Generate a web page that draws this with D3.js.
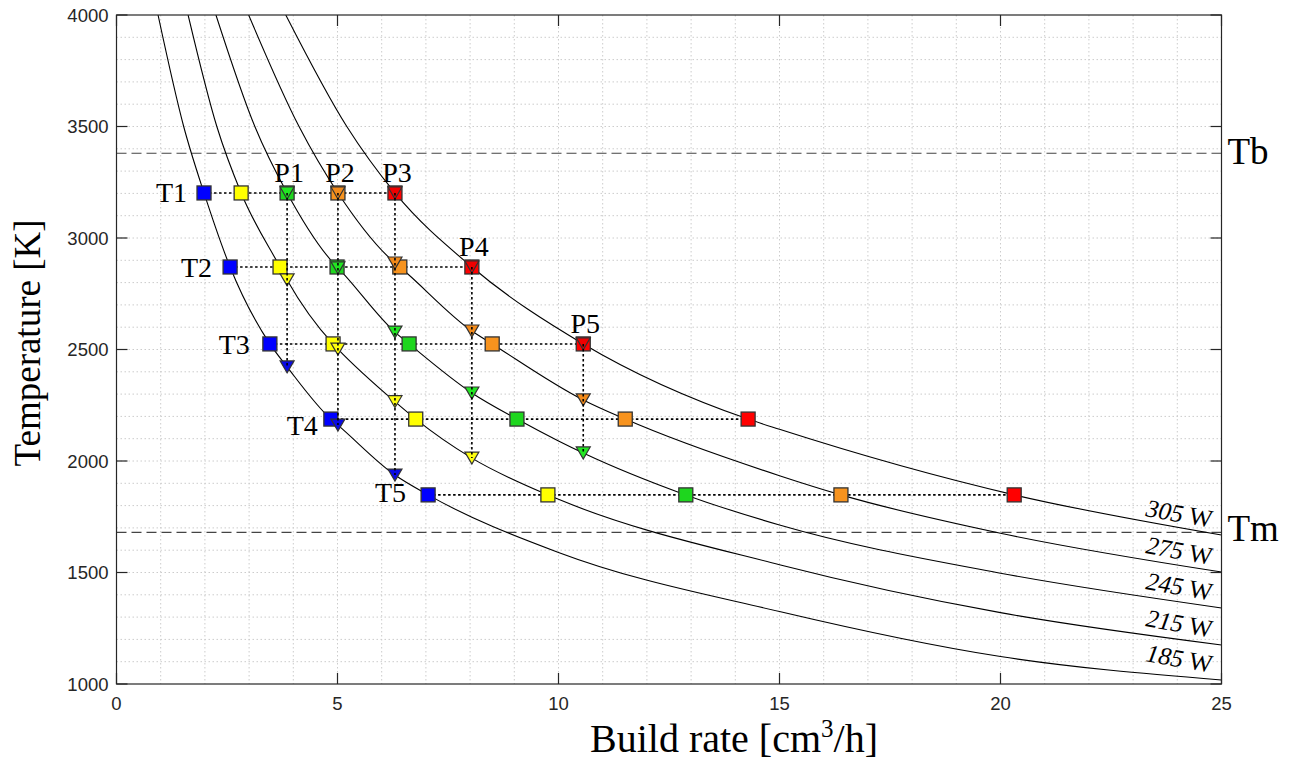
<!DOCTYPE html>
<html>
<head>
<meta charset="utf-8">
<script src="https://cdn.jsdelivr.net/npm/d3@7"></script>
<style>
  body { margin: 0; background: #fff; }
  svg { display: block; }
</style>
</head>
<body>
<svg id="chart" width="1295" height="762"></svg>
<script>
// ---- data ----
const powerDigits = ["185", "215", "245", "275", "305"];
const squareColors = ["#0000ff", "#ffff00", "#1ed61e", "#f7931e", "#ff0000"];
const triangleColors = ["#0a0ae6", "#ffff10", "#22e622", "#f28a1a", "#f00000"];

const tempLabels = ["T1", "T2", "T3", "T4", "T5"];
const tempLevels = [3202, 2870, 2525, 2188, 1848];
const rateLabels = ["P1", "P2", "P3", "P4", "P5"];
const rateLevels = [3.86, 5.01, 6.30, 8.04, 10.56];

// build rate at which each power curve reaches each temperature level
// rows: T1..T5, columns: 185, 215, 245, 275, 305 W
const squareRates = [
  [1.98, 2.82, 3.86, 5.01, 6.30],
  [2.57, 3.70, 4.99, 6.41, 8.04],
  [3.47, 4.90, 6.62, 8.50, 10.56],
  [4.85, 6.77, 9.06, 11.51, 14.29],
  [7.05, 9.76, 12.88, 16.39, 20.31]
];

// temperature of each power curve at each build rate level
// rows: P1..P5, columns: 185, 215, 245, 275, 305 W
const triangleTemps = [
  [2422, 2812, 3202, null, null],
  [2161, 2502, 2866, 3202, null],
  [1937, 2266, 2578, 2888, 3202],
  [null, 2013, 2305, 2583, 2870],
  [null, null, 2036, 2274, 2525]
];

// temperature vs build rate curves, [build rate, temperature]
const curve185 = [[0.94, 4000], [1.52, 3500], [1.98, 3202], [2.57, 2870], [3.47, 2525], [3.86, 2422],
  [4.85, 2188], [5.01, 2161], [6.30, 1937], [7.05, 1848], [10, 1590], [15, 1325], [20, 1123], [25, 1018]];
const curve215 = [[1.62, 4000], [2.27, 3500], [2.82, 3202], [3.70, 2870], [3.86, 2812], [4.90, 2525],
  [5.01, 2502], [6.30, 2266], [6.77, 2188], [8.04, 2013], [9.76, 1848], [10, 1828], [15, 1535], [20, 1320], [25, 1175]];
const curve245 = [[2.25, 4000], [3.13, 3500], [3.86, 3202], [4.99, 2870], [5.01, 2866], [6.30, 2578], [6.62, 2525],
  [8.04, 2305], [9.06, 2188], [10, 2090], [10.56, 2036], [12.88, 1848], [15, 1713], [20, 1497], [25, 1341]];
const curve275 = [[2.99, 4000], [4.13, 3500], [5.01, 3202], [6.30, 2888], [6.41, 2870], [8.04, 2583], [8.50, 2525],
  [10.56, 2274], [11.51, 2188], [15, 1934], [16.39, 1848], [20, 1676], [25, 1502]];
const curve305 = [[3.83, 4000], [5.21, 3500], [6.30, 3202], [8.04, 2870], [10.56, 2525], [14.29, 2188],
  [15, 2142], [20.31, 1848], [25, 1668]];
const curves = [curve185, curve215, curve245, curve275, curve305];

const boilTemp = 3380;
const meltTemp = 1680;

const xTicks = [0, 5, 10, 15, 20, 25];
const yTicks = [1000, 1500, 2000, 2500, 3000, 3500, 4000];

// ---- layout ----
const svg = d3.select("#chart");
const plotL = 116.5, plotR = 1221.5, plotT = 15, plotB = 684;
const x = d3.scaleLinear().domain([0, 25]).range([plotL, plotR]);
const y = d3.scaleLinear().domain([1000, 4000]).range([plotB, plotT]);

const serif = "'Liberation Serif', 'Times New Roman', serif";
const sans = "'Liberation Sans', Arial, Helvetica, sans-serif";
const axisColor = "#262626";

svg.append("defs").append("clipPath").attr("id", "plotClip")
  .append("rect").attr("x", plotL).attr("y", plotT).attr("width", plotR - plotL).attr("height", plotB - plotT);

// grid (major and minor, dotted)
const grid = svg.append("g");
grid.selectAll("line.gx").data(d3.range(1, 25)).join("line")
  .attr("x1", d => x(d)).attr("x2", d => x(d)).attr("y1", plotT).attr("y2", plotB)
  .attr("stroke", "#cccccc").attr("stroke-width", 1).attr("stroke-dasharray", "1.5,2.5");
grid.selectAll("line.gy").data(d3.range(1100, 4000, 100)).join("line")
  .attr("y1", d => y(d)).attr("y2", d => y(d)).attr("x1", plotL).attr("x2", plotR)
  .attr("stroke", "#cccccc").attr("stroke-width", 1).attr("stroke-dasharray", "1.5,2.5");

const plot = svg.append("g").attr("clip-path", "url(#plotClip)");

// boiling and melting temperature lines
[boilTemp, meltTemp].forEach(t => {
  plot.append("line").attr("x1", x(0)).attr("x2", x(25)).attr("y1", y(t)).attr("y2", y(t))
    .attr("stroke", "#444").attr("stroke-width", 1.1).attr("stroke-dasharray", "10,5");
});

// power curves
const line = d3.line().x(d => x(d[0])).y(d => y(d[1])).curve(d3.curveMonotoneX);
plot.selectAll("path.curve").data(curves).join("path")
  .attr("fill", "none").attr("stroke", "#000").attr("stroke-width", 1.1)
  .attr("d", line);

// horizontal guides at constant temperature
const guide = { stroke: "#000", width: 1.6, dash: "2.5,2.5" };
tempLevels.forEach((t, i) => {
  const xs = squareRates[i];
  plot.append("line").attr("x1", x(d3.min(xs))).attr("x2", x(d3.max(xs)))
    .attr("y1", y(t)).attr("y2", y(t))
    .attr("stroke", guide.stroke).attr("stroke-width", guide.width).attr("stroke-dasharray", guide.dash);
});

// squares at the temperature levels
const sq = 14;
tempLevels.forEach((t, i) => {
  squareRates[i].forEach((r, j) => {
    plot.append("rect").attr("x", x(r) - sq / 2).attr("y", y(t) - sq / 2)
      .attr("width", sq).attr("height", sq)
      .attr("fill", squareColors[j]).attr("stroke", "#333").attr("stroke-width", 1.3);
  });
});

// downward triangles at the build rate levels
const tri = "M-7,-6L7,-6L0,6Z";
rateLevels.forEach((r, i) => {
  triangleTemps[i].forEach((t, j) => {
    if (t === null) return;
    plot.append("path").attr("d", tri)
      .attr("transform", `translate(${x(r)},${y(t)})`)
      .attr("fill", triangleColors[j]).attr("stroke", "#333").attr("stroke-width", 1.2);
  });
});

// vertical guides at constant build rate
rateLevels.forEach((r, i) => {
  const ts = triangleTemps[i].filter(v => v !== null);
  plot.append("line").attr("x1", x(r)).attr("x2", x(r))
    .attr("y1", y(d3.max(ts))).attr("y2", y(d3.min(ts)))
    .attr("stroke", guide.stroke).attr("stroke-width", guide.width).attr("stroke-dasharray", guide.dash);
});

// ---- axes box and ticks ----
const axes = svg.append("g");
axes.append("rect").attr("x", plotL).attr("y", plotT).attr("width", plotR - plotL).attr("height", plotB - plotT)
  .attr("fill", "none").attr("stroke", axisColor).attr("stroke-width", 1.2);
const tl = 11;
xTicks.forEach(v => {
  axes.append("line").attr("x1", x(v)).attr("x2", x(v)).attr("y1", plotB).attr("y2", plotB - tl)
    .attr("stroke", axisColor).attr("stroke-width", 1.2);
  axes.append("line").attr("x1", x(v)).attr("x2", x(v)).attr("y1", plotT).attr("y2", plotT + tl)
    .attr("stroke", axisColor).attr("stroke-width", 1.2);
  axes.append("text").attr("x", x(v)).attr("y", plotB + 26).attr("text-anchor", "middle")
    .attr("font-family", sans).attr("font-size", 18.5).attr("fill", axisColor).text(v);
});
yTicks.forEach(v => {
  axes.append("line").attr("y1", y(v)).attr("y2", y(v)).attr("x1", plotL).attr("x2", plotL + tl)
    .attr("stroke", axisColor).attr("stroke-width", 1.2);
  axes.append("line").attr("y1", y(v)).attr("y2", y(v)).attr("x1", plotR).attr("x2", plotR - tl)
    .attr("stroke", axisColor).attr("stroke-width", 1.2);
  axes.append("text").attr("x", plotL - 8).attr("y", y(v) + 6.5).attr("text-anchor", "end")
    .attr("font-family", sans).attr("font-size", 18.5).attr("fill", axisColor).text(v);
});

// ---- text annotations ----
const ann = svg.append("g").attr("font-family", serif).attr("fill", "#000");

// temperature level labels beside the 185 W squares
const tLabelShift = [[-17, 9], [-18, 10], [-20, 10], [-13, 16], [-22, 7]];
tempLabels.forEach((s, i) => {
  ann.append("text").attr("x", x(squareRates[i][0]) + tLabelShift[i][0]).attr("y", y(tempLevels[i]) + tLabelShift[i][1])
    .attr("text-anchor", "end").attr("font-size", 28).text(s);
});

// build rate level labels above their top markers
rateLabels.forEach((s, i) => {
  const ts = triangleTemps[i].filter(v => v !== null);
  ann.append("text").attr("x", x(rateLevels[i]) + 2).attr("y", y(d3.max(ts)) - 11)
    .attr("text-anchor", "middle").attr("font-size", 28).text(s);
});

// power labels near the right end of each curve
curves.forEach((c, i) => {
  const last = c[c.length - 1];
  const cx = x(25) - 42, cy = y(last[1]) - 22;
  const t = ann.append("text").attr("transform", `translate(${cx},${cy}) rotate(10)`)
    .attr("text-anchor", "middle").attr("dominant-baseline", "central").attr("font-size", 25);
  t.append("tspan").attr("font-style", "italic").text(powerDigits[i]);
  t.append("tspan").text(" W");
});

// boiling / melting markers
ann.append("text").attr("x", plotR + 6).attr("y", y(boilTemp) + 11).attr("font-size", 37).text("Tb");
ann.append("text").attr("x", plotR + 6).attr("y", y(meltTemp) + 9).attr("font-size", 37).text("Tm");

// axis titles
ann.append("text").attr("x", 734).attr("y", 752).attr("text-anchor", "middle")
  .attr("font-size", 40).html("Build rate [cm<tspan font-size='25' dy='-15'>3</tspan><tspan dy='15'>/h]</tspan>");
ann.append("text").attr("transform", "translate(40,343) rotate(-90)")
  .attr("text-anchor", "middle").attr("font-size", 37).text("Temperature [K]");
</script>
</body>
</html>
